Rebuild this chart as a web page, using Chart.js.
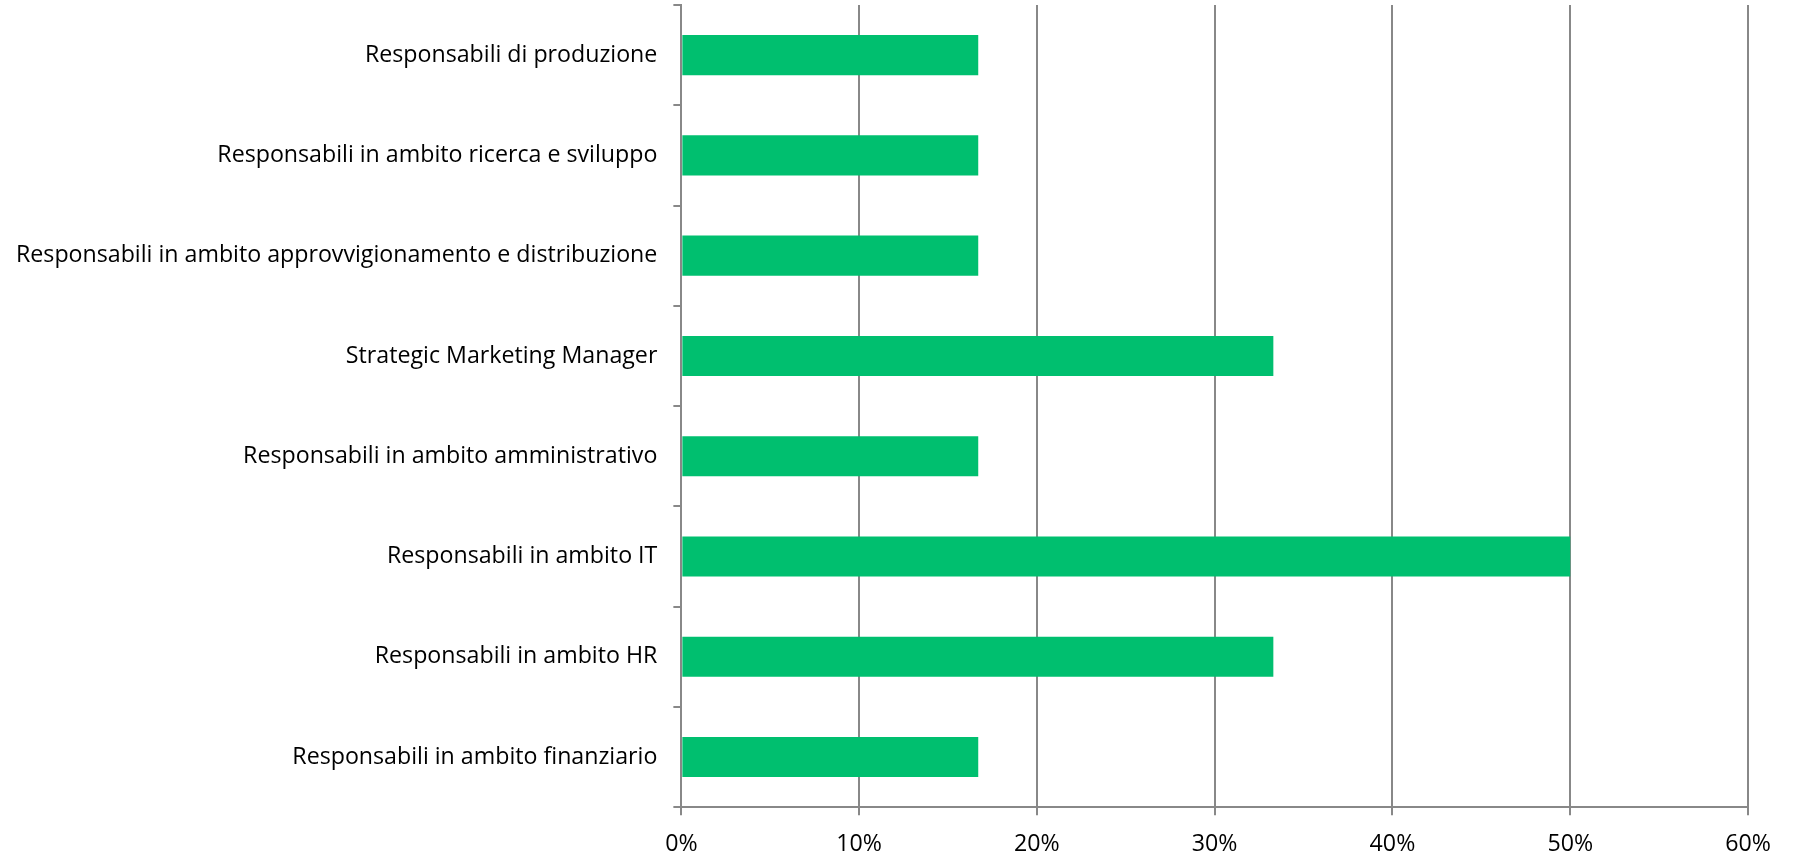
<!DOCTYPE html>
<html>
<head>
<meta charset="utf-8">
<script src="https://cdn.jsdelivr.net/npm/chart.js@4/dist/chart.umd.min.js"></script>
<style>
  html, body { margin: 0; padding: 0; background: #fff; }
  #wrap { width: 1802px; height: 856px; }
</style>
</head>
<body>
<div id="wrap"><canvas id="ruoli"></canvas></div>
<script>
// categorie, dall'alto verso il basso
var ruoli = [
	'Responsabili di produzione',
	'Responsabili in ambito ricerca e sviluppo',
	'Responsabili in ambito approvvigionamento e distribuzione',
	'Strategic Marketing Manager',
	'Responsabili in ambito amministrativo',
	'Responsabili in ambito IT',
	'Responsabili in ambito HR',
	'Responsabili in ambito finanziario'
];
// percentuali
var quote = [16.7, 16.7, 16.7, 33.3, 16.7, 50.0, 33.3, 16.7];
var tickPct = [0, 10, 20, 30, 40, 50, 60];

var grigio = '#888888';
var font = { family: '"Open Sans", sans-serif', size: 23.2 };

var ctx = document.getElementById('ruoli').getContext('2d');
window.RuoliChart = new Chart(ctx, {
	type: 'bar',
	data: {
		labels: ruoli,
		datasets: [{
			label: 'Ruoli',
			data: quote,
			backgroundColor: '#00BF6F',
			borderWidth: 0,
			categoryPercentage: 1,
			barPercentage: 0.4
		}]
	},
	options: {
		indexAxis: 'y',
		responsive: true,
		maintainAspectRatio: false,
		animation: false,
		layout: { padding: { top: 5, right: 54, bottom: 0, left: 0 } },
		plugins: {
			legend: { display: false },
			tooltip: { enabled: false }
		},
		scales: {
			x: {
				min: 0,
				max: 60,
				afterBuildTicks: function (axis) {
					axis.ticks = tickPct.map(function (v) { return { value: v }; });
				},
				afterFit: function (axis) {
					axis.height -= 17;
				},
				grid: { color: grigio, lineWidth: 2, tickLength: 8 },
				border: { color: grigio, width: 2 },
				ticks: {
					color: '#000',
					font: font,
					padding: 15,
					maxRotation: 0,
					callback: function (v) { return v + '%'; }
				}
			},
			y: {
				afterFit: function (axis) {
					axis.paddingTop = 0;
					axis.paddingBottom = 0;
				},
				grid: { drawOnChartArea: false, color: grigio, lineWidth: 2, tickLength: 8, offset: true },
				border: { color: grigio, width: 2 },
				ticks: { color: '#000', font: font, padding: 16 }
			}
		}
	}
});
</script>
</body>
</html>
